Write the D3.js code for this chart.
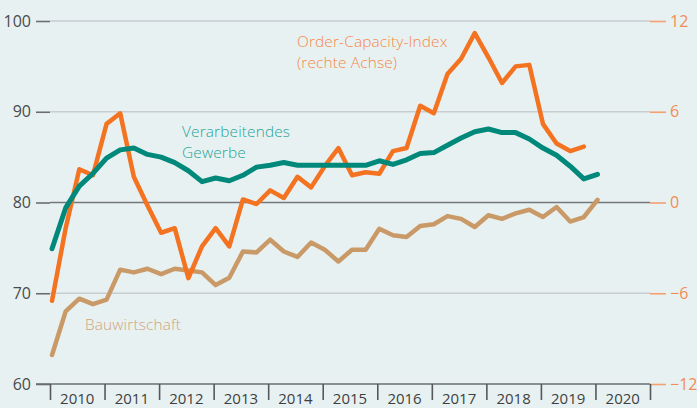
<!DOCTYPE html>
<html><head><meta charset="utf-8">
<script src="https://cdn.jsdelivr.net/npm/d3@7"></script>
<style>
html,body{margin:0;padding:0;background:#E8F1F2;}
svg{display:block;font-family:"Open Sans",sans-serif;}
</style></head><body>
<div id="chart"></div>
<script>
// Quarterly data, 2010 Q1 onwards
const startYear = 2010;
const years = [2010,2011,2012,2013,2014,2015,2016,2017,2018,2019,2020];
const leftTicks = [60,70,80,90,100];
const rightTicks = [-12,-6,0,6,12];
const verarbeitendes = [74.9,79.4,81.8,83.2,84.9,85.8,86.0,85.3,85.0,84.4,83.5,82.3,82.7,82.4,83.0,83.9,84.1,84.4,84.1,84.1,84.1,84.1,84.1,84.1,84.6,84.2,84.7,85.4,85.5,86.3,87.1,87.8,88.1,87.7,87.7,87.0,86.0,85.2,84.0,82.6,83.1];
const bauwirtschaft = [63.2,68.0,69.4,68.8,69.3,72.6,72.3,72.7,72.1,72.7,72.5,72.3,70.9,71.7,74.6,74.5,75.9,74.6,74.0,75.6,74.8,73.5,74.8,74.8,77.1,76.4,76.2,77.4,77.6,78.5,78.2,77.3,78.6,78.2,78.8,79.2,78.4,79.5,77.9,78.4,80.3];
const orderCapacity = [-6.5,-1.7,2.2,1.8,5.2,5.9,1.7,-0.2,-2.0,-1.7,-5.0,-2.9,-1.7,-2.9,0.2,-0.1,0.8,0.3,1.7,1.0,2.4,3.6,1.8,2.0,1.9,3.4,3.6,6.4,5.9,8.5,9.5,11.2,9.6,7.9,9.0,9.1,5.2,3.9,3.4,3.7];

const W = 697, H = 408;
const svg = d3.select("#chart").append("svg").attr("width",W).attr("height",H);

const x = d3.scaleLinear().domain([2010,2021]).range([50,650]);
const yL = d3.scaleLinear().domain([60,100]).range([384,21]);
const yR = d3.scaleLinear().domain([-12,12]).range([384,21]);
const tx = i => x(startYear + i/4 + 0.037);

// grid
svg.append("g").selectAll("line").data([70,90,100]).join("line")
  .attr("x1",50).attr("x2",650).attr("y1",d=>yL(d)).attr("y2",d=>yL(d))
  .attr("stroke","#C7CDD0").attr("stroke-width",1.5);
svg.append("line").attr("x1",50).attr("x2",650).attr("y1",yL(80)).attr("y2",yL(80))
  .attr("stroke","#75787A").attr("stroke-width",1.5);

// left axis
const gL = svg.append("g").attr("transform","translate(50,0)")
  .call(d3.axisLeft(yL).tickValues(leftTicks).tickSize(14).tickPadding(5));
gL.select(".domain").remove();
gL.selectAll(".tick line").attr("stroke","#6b6e70").attr("stroke-width",1.6);
gL.selectAll(".tick text").attr("fill","#4a4a4a").attr("font-size",16).attr("font-family","Open Sans");

// right axis
const gR = svg.append("g").attr("transform","translate(650,0)")
  .call(d3.axisRight(yR).tickValues(rightTicks).tickSize(16).tickPadding(4)
    .tickFormat(d => d<0 ? "\u2212"+Math.abs(d) : d));
gR.select(".domain").remove();
gR.selectAll(".tick line").attr("stroke","#F4A070").attr("stroke-width",1.6);
gR.selectAll(".tick text").attr("fill","#F28C52").attr("font-size",16).attr("font-family","Open Sans");

// bottom axis
svg.append("line").attr("x1",36).attr("x2",650).attr("y1",yL(60)).attr("y2",yL(60))
  .attr("stroke","#6b6e70").attr("stroke-width",1.6);
const gB = svg.append("g").attr("transform",`translate(0,${yL(60)})`)
  .call(d3.axisBottom(x).tickValues(d3.range(2010,2022)).tickSize(16).tickFormat(""));
gB.select(".domain").remove();
gB.selectAll(".tick line").attr("stroke","#55585a").attr("stroke-width",1.6);
svg.append("g").selectAll("text").data(years).join("text")
  .attr("x",d=>x(d+0.5)).attr("y",404).attr("text-anchor","middle")
  .attr("fill","#3f3f3f").attr("font-size",15).text(d=>d);

// lines
const lineL = d3.line().x((d,i)=>tx(i)).y(d=>yL(d)).curve(d3.curveLinear);
const lineR = d3.line().x((d,i)=>tx(i)).y(d=>yR(d)).curve(d3.curveLinear);
svg.append("path").datum(bauwirtschaft).attr("d",lineL).attr("fill","none")
  .attr("stroke","#C99A68").attr("stroke-width",4.5).attr("stroke-linejoin","round").attr("stroke-linecap","round");
svg.append("path").datum(orderCapacity).attr("d",lineR).attr("fill","none")
  .attr("stroke","#F47321").attr("stroke-width",4.5).attr("stroke-linejoin","round").attr("stroke-linecap","round");
svg.append("path").datum(verarbeitendes).attr("d",lineL).attr("fill","none")
  .attr("stroke","#00897A").attr("stroke-width",5).attr("stroke-linejoin","round").attr("stroke-linecap","round");

// labels
const lab = (t,xx,yy,c)=>svg.append("text").attr("x",xx).attr("y",yy).attr("fill",c)
  .attr("font-size",15.4).attr("font-weight",300).attr("letter-spacing",0.15).text(t);
lab("Order-Capacity-Index",297,47,"#F5884A");
lab("(rechte Achse)",297,68,"#F5884A");
lab("Verarbeitendes",182,137,"#24A596");
lab("Gewerbe",182,158,"#24A596");
lab("Bauwirtschaft",85,330,"#CFA47A");
</script>
</body></html>
